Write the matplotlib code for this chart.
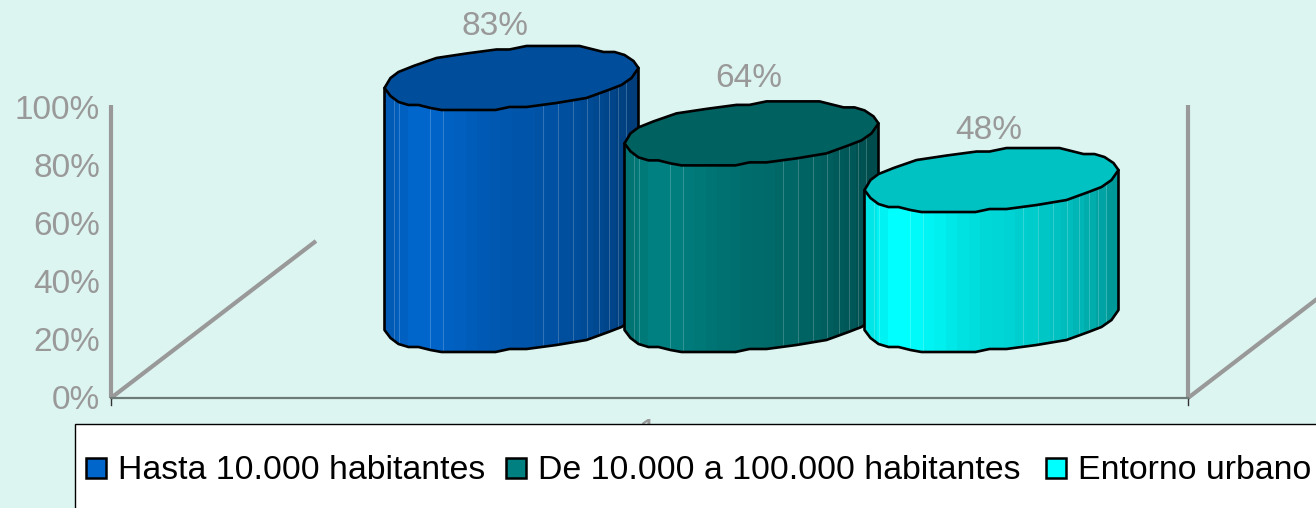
import numpy as np
import matplotlib
matplotlib.use('Agg')
import matplotlib.pyplot as plt
from matplotlib.patches import Polygon, Rectangle

plt.rcParams['font.family'] = ['Liberation Sans', 'DejaVu Sans']

# data
series = ['Hasta 10.000 habitantes', 'De 10.000 a 100.000 habitantes', 'Entorno urbano']
values = [83, 64, 48]
colors = ['#0066CC', '#008080', '#00FFFF']
y_ticks = [0, 20, 40, 60, 80, 100]
category = '1'

# layout, in pixels of the 1316x508 picture
BG = '#DDF5F1'
GREY = '#999999'
BASE_Y = 320
PX_PER_PCT = 2.916
AXIS_Y0 = 398
AXIS_PX_PER_PCT = 2.9
CENTERS = [511.5, 751.5, 991.5]
LABEL_X = [495, 749, 989]
LABEL_UP = [51, 55, 50]
LEGEND_SWATCH_X = [86, 506, 1046]
LEGEND_TEXT_X = [118, 538, 1078]

# hand-traced rim of the faceted cylinder, relative to its centre
RIM = np.array([
    (-127, 10), (-121, 0), (-113, -6), (-98, -12), (-75, -20), (-45, -24.5),
    (-15, -28.5), (-2, -28.5), (15, -32), (68, -32), (92, -26), (103, -26),
    (113, -23), (122, -17), (127, -10), (120, 0), (110, 7), (97, 12),
    (75, 20), (45, 25), (15, 29), (-2, 29), (-16, 32), (-70, 32),
    (-81, 30), (-93, 27), (-103, 27), (-113, 24), (-121, 18),
])
# the front half of the rim, left to right
FRONT = np.vstack([RIM[0], RIM[:14:-1], RIM[14]])
# pale seams on the side, distance from the left edge
SEAMS = [9, 14, 45, 58, 158, 173, 188, 202, 214, 224, 233, 241]
# brightness across the side, left to right
SHADE = [0.90, 0.95, 1.0, 1.0, 0.98, 0.96, 0.94, 0.91, 0.89, 0.87, 0.85, 0.84,
         0.83, 0.81, 0.80, 0.78, 0.76, 0.74, 0.71, 0.68, 0.64, 0.60]


def draw_cylinder(ax, cx, value, color, order):
    rgb = np.array(matplotlib.colors.to_rgb(color))
    top_y = BASE_Y - value * PX_PER_PCT
    bottom = FRONT + (cx, BASE_Y)
    side = np.vstack([(cx - 127, top_y + 10), bottom, (cx + 127, top_y - 10)])
    clip = Polygon(side, closed=True, transform=ax.transData)
    strips = np.array(SHADE)[None, :, None] * rgb
    im = ax.imshow(strips, extent=(cx - 127, cx + 127, BASE_Y + 40, top_y - 40),
                   aspect='auto', interpolation='nearest', zorder=order)
    im.set_clip_path(clip)
    for s in SEAMS:
        line = ax.plot([cx - 127 + s] * 2, [top_y - 40, BASE_Y + 40], color='white',
                       lw=0.7, alpha=0.2, zorder=order)[0]
        line.set_clip_path(clip)
    ax.add_patch(Polygon(side, closed=True, fc='none', ec='black', lw=1.9,
                         joinstyle='round', zorder=order + 0.1))
    ax.add_patch(Polygon(RIM + (cx, top_y), closed=True, fc=rgb * 0.76, ec='black',
                         lw=1.9, joinstyle='round', zorder=order + 0.2))


fig = plt.figure(figsize=(13.16, 5.08), dpi=100, facecolor=BG)
ax = fig.add_axes([0, 0, 1, 1])
ax.set_axis_off()

# walls and floor
for x0, x1, y1 in [(111, 316, 241), (1188, 1330, 289)]:
    ax.plot([x0, x0], [AXIS_Y0, 105], color=GREY, lw=3, solid_capstyle='butt', zorder=1)
    ax.plot([x0, x1], [AXIS_Y0, y1], color=GREY, lw=3, solid_capstyle='butt', zorder=1)
    ax.plot([x0, x0], [AXIS_Y0, 405], color='#333333', lw=1, zorder=1)
ax.plot([111, 1188], [AXIS_Y0, AXIS_Y0], color='#6E7C78', lw=1.6, zorder=1.5)

for t in y_ticks:
    ax.text(100, AXIS_Y0 - t * AXIS_PX_PER_PCT + 2.5, f'{t}%', color=GREY, fontsize=24,
            ha='right', va='center')

ax.text(648, 434, category, color=GREY, fontsize=24, ha='center', va='center', zorder=1)

for i, v in enumerate(values):
    draw_cylinder(ax, CENTERS[i], v, colors[i], 2 + i)
    ax.text(LABEL_X[i], BASE_Y - v * PX_PER_PCT - LABEL_UP[i], f'{v}%', color=GREY,
            fontsize=24, ha='center', va='center', zorder=8)

# legend box runs off the right and bottom of the picture
ax.add_patch(Rectangle((75, 424), 1300, 120, fc='white', ec='black', lw=1, zorder=9))
for i, name in enumerate(series):
    ax.add_patch(Rectangle((LEGEND_SWATCH_X[i], 458), 20, 20, fc=colors[i], ec='black',
                           lw=1.8, zorder=10))
    ax.text(LEGEND_TEXT_X[i], 479, name, color='black', fontsize=24.4, ha='left',
            va='baseline', zorder=10)

ax.set_xlim(0, 1316)
ax.set_ylim(508, 0)
fig.savefig('out.png', dpi=100, facecolor=BG)
